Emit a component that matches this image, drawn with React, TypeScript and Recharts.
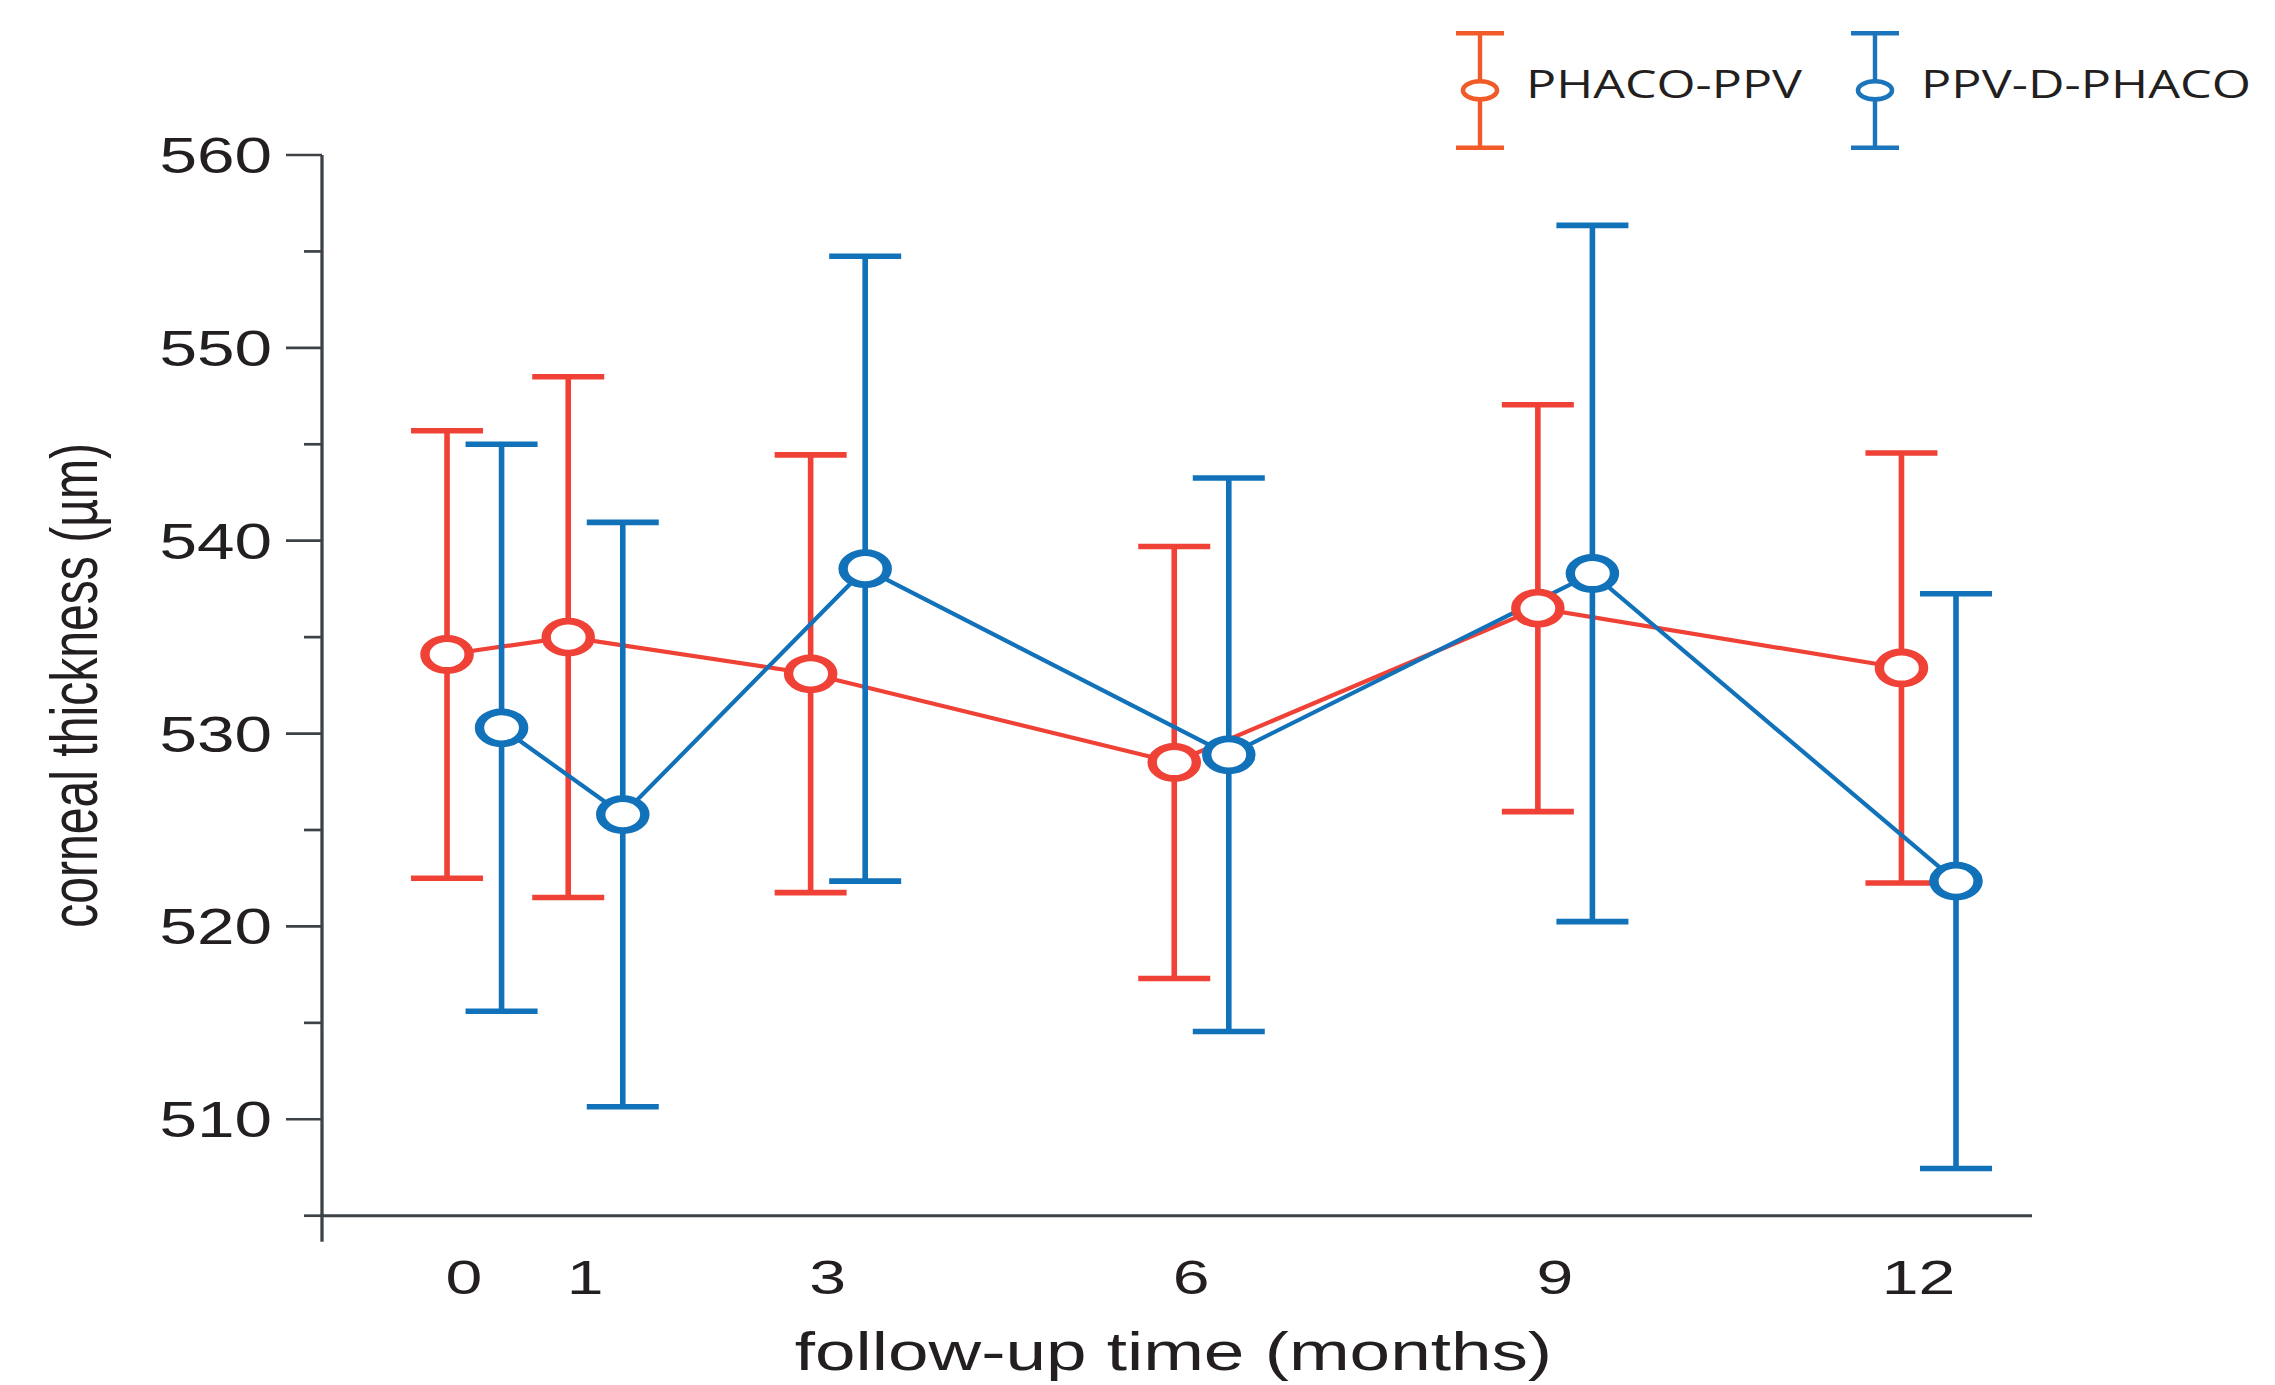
import React from "react";
import {
  ComposedChart,
  Line,
  XAxis,
  YAxis,
  ErrorBar,
  Legend,
} from "recharts";

// follow-up months and tick values
const months = [0, 1, 3, 6, 9, 12];
const yTicks = [505, 510, 515, 520, 525, 530, 535, 540, 545, 550, 555, 560];

// PHACO-PPV: mean and SD of corneal thickness (µm)
const phacoMean = [534.1, 535.0, 533.1, 528.5, 536.5, 533.4];
const phacoSd = [11.6, 13.5, 11.35, 11.2, 10.55, 11.15];

// PPV-D-PHACO: mean and SD
const ppvMean = [530.3, 525.8, 538.55, 528.9, 538.3, 522.35];
const ppvSd = [14.7, 15.15, 16.2, 14.35, 18.05, 14.9];

const RED = "#ef4136";
const BLUE = "#1172ba";
const LEGEND_RED = "#f15a29";
const LEGEND_BLUE = "#1a75bc";
const AXIS = "#3d4247";
const INK = "#231f20";
const FONT = "'Liberation Sans', Arial, Helvetica, sans-serif";
const SX = 1.35; // the figure is stretched horizontally

// groups are drawn side by side around each month
const RED_SHIFT = -0.14;
const BLUE_SHIFT = 0.31;

const redData = months.map((m, i) => ({
  x: m + RED_SHIFT,
  y: phacoMean[i],
  sd: phacoSd[i],
}));
const blueData = months.map((m, i) => ({
  x: m + BLUE_SHIFT,
  y: ppvMean[i],
  sd: ppvSd[i],
}));

function makeDot(color: string) {
  return (props: any) => {
    const { cx, cy, index } = props;
    if (cx == null || cy == null) return <g key={`d-${index}`} />;
    return (
      <circle
        key={`d-${color}-${index}`}
        cx={0}
        cy={0}
        r={16}
        transform={`translate(${cx} ${cy}) scale(1.38 1)`}
        fill="#fff"
        stroke={color}
        strokeWidth={6.8}
      />
    );
  };
}

function YTick(props: any) {
  const { x, y, payload } = props;
  const v = payload.value;
  const major = v % 10 === 0;
  return (
    <g>
      <line x1={x - (major ? 36 : 18)} x2={x} y1={y} y2={y} stroke={AXIS} strokeWidth={2.7} />
      {v === yTicks[0] && (
        <line x1={x} x2={x} y1={y - 2} y2={y + 26} stroke={AXIS} strokeWidth={3.3} />
      )}
      {major && (
        <text
          transform={`translate(${x - 50} ${y + 18}) scale(${SX} 1)`}
          textAnchor="end"
          fontSize={50}
          fontFamily={FONT}
          fill={INK}
        >
          {v}
        </text>
      )}
    </g>
  );
}

function XTick(props: any) {
  const { x, y, payload } = props;
  return (
    <text
      transform={`translate(${x} ${y + 78}) scale(${SX} 1)`}
      textAnchor="middle"
      fontSize={49}
      fontFamily={FONT}
      fill={INK}
    >
      {payload.value}
    </text>
  );
}

function LegendItem({ x, color, label, width }: any) {
  return (
    <g>
      <line x1={x - 24} x2={x + 24} y1={13.3} y2={13.3} stroke={color} strokeWidth={4.6} />
      <line x1={x - 24} x2={x + 24} y1={127.7} y2={127.7} stroke={color} strokeWidth={4.6} />
      <line x1={x} x2={x} y1={13.3} y2={127.7} stroke={color} strokeWidth={4.4} />
      <ellipse cx={x} cy={70.3} rx={17} ry={9} fill="#fff" stroke={color} strokeWidth={4.6} />
      <text
        x={x + 46}
        y={78.3}
        fontSize={38}
        fontFamily="'Open Sans', sans-serif"
        fill={INK}
        textLength={width}
        lengthAdjust="spacingAndGlyphs"
      >
        {label}
      </text>
    </g>
  );
}

function LegendContent() {
  return (
    <svg width={820} height={145} style={{ display: "block" }}>
      <LegendItem x={40} color={LEGEND_RED} label="PHACO-PPV" width={276} />
      <LegendItem x={435} color={LEGEND_BLUE} label="PPV-D-PHACO" width={330} />
    </svg>
  );
}

export default function App() {
  return (
    <div style={{ position: "absolute", left: 0, top: 0, background: "#fff" }}>
      <ComposedChart
        width={2275}
        height={1385}
        margin={{ top: 155, right: 243, bottom: 0, left: 0 }}
      >
        <XAxis
          type="number"
          dataKey="x"
          domain={[-1.1716, 12.937]}
          ticks={months}
          interval={0}
          height={169.3}
          tickSize={0}
          tickMargin={0}
          tickLine={false}
          axisLine={{ stroke: AXIS, strokeWidth: 3 }}
          tick={(p: any) => <XTick {...p} />}
          label={(p: any) => {
            const vb = p.viewBox || {};
            return (
              <text
                transform={`translate(${1173.5} ${(vb.y ?? 1215.7) + 154.3}) scale(${SX} 1)`}
                textAnchor="middle"
                fontSize={54}
                fontFamily={FONT}
                fill={INK}
              >
                follow-up time (months)
              </text>
            );
          }}
        />
        <YAxis
          type="number"
          domain={[505, 560]}
          ticks={yTicks}
          interval={0}
          width={322}
          tickSize={0}
          tickMargin={0}
          tickLine={false}
          axisLine={{ stroke: AXIS, strokeWidth: 3.3 }}
          tick={(p: any) => <YTick {...p} />}
          label={(p: any) => {
            const vb = p.viewBox || {};
            const cy = (vb.y ?? 155) + (vb.height ?? 1060.7) / 2;
            return (
              <text
                transform={`translate(96.7 ${cy}) scale(${SX} 1) rotate(-90)`}
                textAnchor="middle"
                fontSize={49}
                fontFamily={FONT}
                fill={INK}
                textLength={485}
                lengthAdjust="spacingAndGlyphs"
              >
                corneal thickness (µm)
              </text>
            );
          }}
        />
        <Legend
          layout="vertical"
          align="center"
          verticalAlign="middle"
          wrapperStyle={{ left: 1440, top: 20, width: 820, height: 145 }}
          content={() => <LegendContent />}
        />
        <Line
          data={redData}
          dataKey="y"
          type="linear"
          stroke={RED}
          strokeWidth={4.2}
          dot={makeDot(RED)}
          activeDot={false}
          isAnimationActive={false}
          name="PHACO-PPV"
        >
          <ErrorBar dataKey="sd" direction="y" width={36} strokeWidth={5.6} stroke={RED} />
        </Line>
        <Line
          data={blueData}
          dataKey="y"
          type="linear"
          stroke={BLUE}
          strokeWidth={4.2}
          dot={makeDot(BLUE)}
          activeDot={false}
          isAnimationActive={false}
          name="PPV-D-PHACO"
        >
          <ErrorBar dataKey="sd" direction="y" width={36} strokeWidth={5.6} stroke={BLUE} />
        </Line>
      </ComposedChart>
    </div>
  );
}
